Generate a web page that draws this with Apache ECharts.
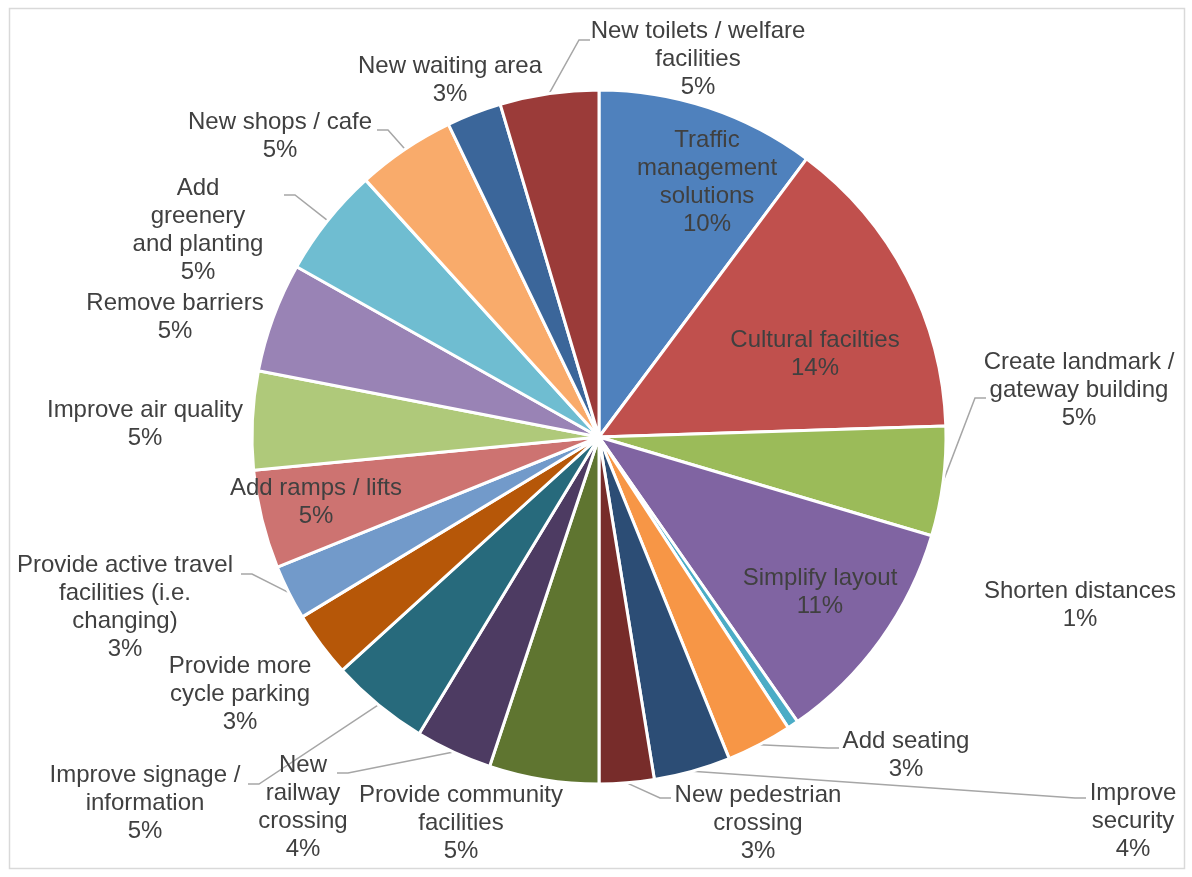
<!DOCTYPE html>
<html>
<head>
<meta charset="utf-8">
<script src="https://cdn.jsdelivr.net/npm/echarts@6/dist/echarts.min.js"></script>
<style>
  html, body { margin: 0; padding: 0; background: #ffffff; }
  #chart { width: 1192px; height: 877px; }
</style>
</head>
<body>
<div id="chart"></div>
<script>
// Survey responses: suggested improvements (number of mentions)
const categories = [
  'Traffic\nmanagement\nsolutions',
  'Cultural facilties',
  'Create landmark /\ngateway building',
  'Simplify layout',
  'Shorten distances',
  'Add seating',
  'Improve\nsecurity',
  'New pedestrian\ncrossing',
  'Provide community\nfacilities',
  'New\nrailway\ncrossing',
  'Improve signage /\ninformation',
  'Provide more\ncycle parking',
  'Provide active travel\nfacilities (i.e.\nchanging)',
  'Add ramps / lifts',
  'Improve air quality',
  'Remove barriers',
  'Add\ngreenery\nand planting',
  'New shops / cafe',
  'New waiting area',
  'New toilets / welfare\nfacilities'
];
const counts = [20, 28, 10, 21, 1, 6, 7, 5, 10, 7, 9, 6, 5, 9, 9, 10, 10, 9, 5, 9];

const colors = [
  '#4F81BD', '#C0504D', '#9BBB59', '#8064A2', '#4BACC6', '#F79646',
  '#2C4D75', '#772C2A', '#5F7530', '#4D3B62', '#276A7C', '#B65708',
  '#729ACA', '#CD7371', '#AFC97A', '#9983B5', '#6FBDD1', '#F9AB6B',
  '#3B669A', '#9B3B39'
];

// Label placement (centre of each text block, px)
const labelCentres = [
  [707, 182], [815, 354], [1079, 390], [820, 592], [1080, 605],
  [906, 755], [1133, 821], [758, 823], [461, 823], [303, 807],
  [145, 803], [240, 694], [125, 607], [316, 502], [145, 424],
  [175, 317], [198, 230], [280, 136], [450, 80], [698, 59]
];
const insideLabels = [0, 1, 3, 13];
// Where a leader line meets its label (px)
const leaderAnchors = {
  2: [986, 398], 5: [839, 748], 6: [1086, 798], 7: [671, 798],
  9: [337, 773], 10: [248, 784], 12: [241, 574], 16: [284, 195],
  17: [377, 130], 19: [590, 40]
};

const CX = 599, CY = 437, R = 347;
const total = counts.reduce((a, b) => a + b, 0);
const midAngles = [];
let acc = 0;
counts.forEach(v => { midAngles.push((acc + v / 2) / total * 2 * Math.PI); acc += v; });

const data = categories.map((name, i) => ({
  name: name,
  value: counts[i],
  itemStyle: { color: colors[i] },
  label: { position: insideLabels.includes(i) ? 'inside' : 'outside' },
  labelLine: { show: !!leaderAnchors[i] }
}));

const chart = echarts.init(document.getElementById('chart'), null, { renderer: 'canvas' });
chart.setOption({
  animation: false,
  backgroundColor: '#ffffff',
  graphic: [{
    type: 'rect',
    shape: { x: 9.5, y: 8.5, width: 1175, height: 860 },
    style: { fill: 'none', stroke: '#D9D9D9', lineWidth: 1.5 },
    silent: true
  }],
  series: [{
    type: 'pie',
    center: [CX, CY],
    radius: R,
    startAngle: 90,
    clockwise: true,
    avoidLabelOverlap: false,
    itemStyle: { borderColor: '#ffffff', borderWidth: 3 },
    label: {
      show: true,
      color: '#404040',
      fontFamily: '"Liberation Sans", Arial, sans-serif',
      fontSize: 24,
      lineHeight: 28,
      align: 'center',
      formatter: p => p.name + '\n' + Math.round(p.value / total * 100) + '%'
    },
    labelLine: {
      lineStyle: { color: '#A6A6A6', width: 1.5 },
      smooth: false
    },
    labelLayout: function (p) {
      const i = p.dataIndex;
      const c = labelCentres[i];
      const out = { x: c[0], y: c[1], align: 'center', verticalAlign: 'middle' };
      const a = leaderAnchors[i];
      if (a) {
        const ang = midAngles[i];
        const px = CX + R * Math.sin(ang);
        const py = CY - R * Math.cos(ang);
        const dir = px < a[0] ? -1 : 1;
        out.labelLinePoints = [[px, py], [a[0] + dir * 11, a[1]], [a[0], a[1]]];
      }
      return out;
    },
    emphasis: { disabled: true },
    data: data
  }]
});
</script>
</body>
</html>
